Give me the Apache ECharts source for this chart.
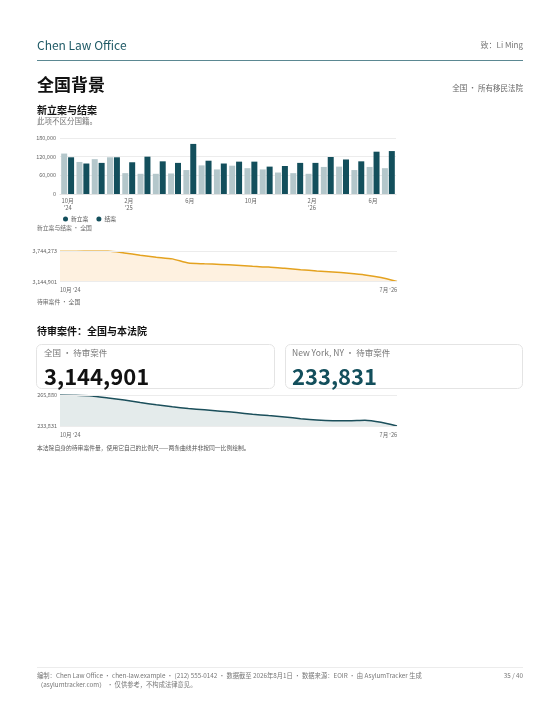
<!DOCTYPE html>
<html><head><meta charset="utf-8">
<script src="https://cdn.jsdelivr.net/npm/echarts@6/dist/echarts.min.js"></script>
<style>html,body{margin:0;padding:0;background:#fff}#c{width:560px;height:725px}</style>
</head><body><div id="c"></div>
<script>
// ---- data ----
const months = ['2024-10','2024-11','2024-12','2025-01','2025-02','2025-03','2025-04','2025-05','2025-06','2025-07','2025-08','2025-09','2025-10','2025-11','2025-12','2026-01','2026-02','2026-03','2026-04','2026-05','2026-06','2026-07'];
const barTickLabels = ["10月\n'24","","","","2月\n'25","","","","6月","","","","10月","","","","2月\n'26","","","","6月",""];
const newCases = [130000,103000,112000,118000,67000,65000,65000,66000,77000,92000,79000,91000,83000,79000,69000,67000,65000,87000,88000,77000,87000,83000];
const closedCases = [118000,98000,100000,118000,102000,120000,105000,100000,161000,107000,98000,104000,104000,88000,90000,100000,100000,119000,111000,105000,136000,138000];
const barYTicks = [0,60000,120000,180000];
const nationalPending = [3738500,3741000,3743000,3744273,3705600,3661000,3622500,3589600,3506500,3493000,3481300,3462000,3442700,3429000,3404000,3377000,3351800,3332500,3307300,3274400,3222000,3144901];
const courtPending = [265880,265670,264840,262750,260660,258150,255750,253660,251890,250530,249180,247710,246040,244580,243230,241450,240090,239360,239300,239780,237690,233831];
const lineTickLabels = ["10月 '24","7月 '26"];
const seriesNames = ['新立案','结案'];
const nationalLabel = '3,144,901';
const courtLabel = '233,831';

const FONT = '"Noto Sans CJK SC","Noto Sans",sans-serif';
const fmt = v => Math.round(v).toLocaleString('en-US');
const nMin = Math.min(...nationalPending), nMax = Math.max(...nationalPending);
const cMin = Math.min(...courtPending), cMax = Math.max(...courtPending);

function txt(x, y, text, size, color, weight, align) {
  return {type:'text', silent:true, style:{x:x, y:y, text:text, fill:color, font:(weight||'normal')+' '+size+'px '+FONT, textAlign:align||'left', align:align||'left', textVerticalAlign:'middle', verticalAlign:'middle'}};
}

const chart = echarts.init(document.getElementById('c'), null, {renderer:'canvas'});
const lineX = (gi) => ({
  type:'category', gridIndex:gi, data:months, boundaryGap:false,
  axisLine:{show:false}, axisTick:{show:false},
  axisLabel:{fontFamily:FONT, fontSize:5.5, color:'#666', margin:6,
    interval:(i)=> i===0 || i===months.length-1,
    formatter:(v,i)=> i===0 ? lineTickLabels[0] : lineTickLabels[1],
    alignMinLabel:'left', alignMaxLabel:'right'}
});
const lineY = (gi, mn, mx) => ({
  type:'value', gridIndex:gi, min:mn, max:mx, splitNumber:1,
  axisLine:{show:false}, axisTick:{show:false}, splitLine:{show:false},
  axisLabel:{fontFamily:FONT, fontSize:5.5, color:'#666', margin:3, showMinLabel:true, showMaxLabel:true,
    formatter:(v)=> (v===mn||v===mx) ? fmt(v) : ''}
});
const gridMarks = (mn, mx) => ({silent:true, symbol:'none', label:{show:false},
  lineStyle:{color:'#ececec', type:'solid', width:1}, data:[{yAxis:mn},{yAxis:mx}]});

chart.setOption({
  animation:false,
  textStyle:{fontFamily:FONT},
  grid:[
    {left:60, top:138, width:336, height:56},
    {left:60, top:251, width:337, height:30.5},
    {left:60, top:395, width:337, height:31}
  ],
  legend:{left:58, top:211, itemWidth:5, itemHeight:5, itemGap:8, icon:'circle',
    textStyle:{fontFamily:FONT, fontSize:5.8, color:'#555', padding:[0,0,0,-2]},
    data:[{name:seriesNames[0], itemStyle:{color:'#134f5c'}},{name:seriesNames[1], itemStyle:{color:'#134f5c'}}]},
  xAxis:[
    {type:'category', gridIndex:0, data:months,
      axisLine:{show:true, lineStyle:{color:'#e3e3e3'}}, axisTick:{show:false},
      axisLabel:{fontFamily:FONT, fontSize:5.8, color:'#666', interval:0, margin:3, lineHeight:7,
        formatter:(v,i)=> barTickLabels[i]}},
    lineX(1), lineX(2)
  ],
  yAxis:[
    {type:'value', gridIndex:0, min:barYTicks[0], max:barYTicks[barYTicks.length-1], interval:barYTicks[1]-barYTicks[0],
      axisLine:{show:false}, axisTick:{show:false},
      splitLine:{lineStyle:{color:'#ececec'}},
      axisLabel:{fontFamily:FONT, fontSize:5.5, color:'#666', margin:4, formatter:fmt}},
    lineY(1, nMin, nMax), lineY(2, cMin, cMax)
  ],
  series:[
    {name:seriesNames[0], type:'bar', xAxisIndex:0, yAxisIndex:0, data:newCases,
      itemStyle:{color:'#b4c7cb'}, barWidth:6, barGap:'15%'},
    {name:seriesNames[1], type:'bar', xAxisIndex:0, yAxisIndex:0, data:closedCases,
      itemStyle:{color:'#134f5c'}, barWidth:6, barGap:'15%'},
    {name:'national', type:'line', xAxisIndex:1, yAxisIndex:1, data:nationalPending, smooth:0.2,
      symbol:'none', lineStyle:{color:'#e4a21f', width:1.5}, areaStyle:{color:'#fdebd3'},
      markLine:gridMarks(nMin, nMax), z:3},
    {name:'court', type:'line', xAxisIndex:2, yAxisIndex:2, data:courtPending, smooth:0.2,
      symbol:'none', lineStyle:{color:'#1b4f5b', width:1.5}, areaStyle:{color:'#d8e2e2'},
      markLine:gridMarks(cMin, cMax), z:3}
  ],
  graphic:[
    txt(37, 45, 'Chen Law Office', 12, '#1f5a66'),
    txt(523, 45, '致：Li Ming', 8, '#777', 'normal', 'right'),
    {type:'line', silent:true, shape:{x1:37, y1:60.5, x2:523, y2:60.5}, style:{stroke:'#5b8892', lineWidth:1}},
    txt(37, 85, '全国背景', 17, '#111', 'bold'),
    txt(523, 88, '全国 · 所有移民法院', 7.5, '#666', 'normal', 'right'),
    txt(37, 110, '新立案与结案', 10, '#111', 'bold'),
    txt(37, 121.5, '此项不区分国籍。', 7.5, '#777'),
    txt(37, 228, '新立案与结案 · 全国', 5.8, '#666'),
    txt(37, 302, '待审案件 · 全国', 5.8, '#666'),
    txt(37, 331, '待审案件：全国与本法院', 10, '#111', 'bold'),
    {type:'rect', silent:true, shape:{x:36.5, y:344.5, width:238, height:44, r:5}, style:{fill:'#fff', stroke:'#e4e4e4', lineWidth:1}},
    {type:'rect', silent:true, shape:{x:285.5, y:344.5, width:237, height:44, r:5}, style:{fill:'#fff', stroke:'#e4e4e4', lineWidth:1}},
    txt(44, 352.5, '全国 · 待审案件', 8.5, '#777'),
    txt(44, 377, nationalLabel, 22, '#111', 'bold'),
    txt(292, 352.5, 'New York, NY · 待审案件', 8.5, '#777'),
    txt(292, 377, courtLabel, 22, '#134f5c', 'bold'),
    txt(37, 447.5, '本法院自身的待审案件量，使用它自己的比例尺——两条曲线并非按同一比例绘制。', 5.8, '#555'),
    {type:'line', silent:true, shape:{x1:37, y1:667.5, x2:523, y2:667.5}, style:{stroke:'#ececec', lineWidth:1}},
    txt(37, 676, '编制：Chen Law Office · chen-law.example · (212) 555-0142 · 数据截至 2026年8月1日 · 数据来源：EOIR · 由 AsylumTracker 生成', 6.3, '#777'),
    txt(37, 685, '（asylumtracker.com） · 仅供参考，不构成法律意见。', 6.3, '#777'),
    txt(523, 676, '35 / 40', 6.3, '#777', 'normal', 'right')
  ]
});
</script></body></html>
